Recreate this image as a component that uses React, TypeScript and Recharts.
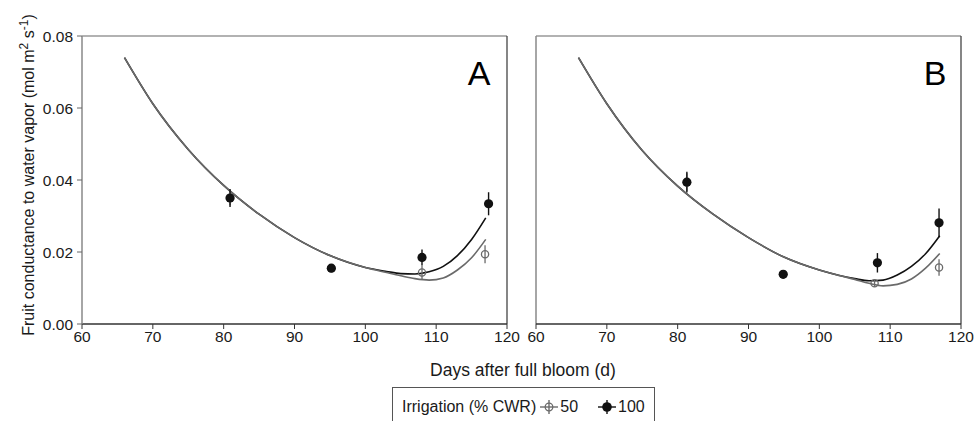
import React from "react";
import {
  ComposedChart,
  Line,
  Scatter,
  ErrorBar,
  XAxis,
  YAxis,
  ReferenceLine,
} from "recharts";

// fitted curves
const fitDays = [66, 70, 75, 80, 85, 90, 95, 100, 103, 105, 107, 109, 111, 113, 115, 117];
const aFit100 = [0.074, 0.0612, 0.0485, 0.0385, 0.0305, 0.024, 0.019, 0.0157, 0.0146, 0.014, 0.0139, 0.0145, 0.016, 0.019, 0.0235, 0.0295];
const aFit50 = [0.074, 0.0612, 0.0485, 0.0385, 0.0305, 0.024, 0.019, 0.0157, 0.0143, 0.0134, 0.0126, 0.0122, 0.0128, 0.015, 0.0184, 0.0235];
const bFit100 = [0.074, 0.0612, 0.0482, 0.0383, 0.0305, 0.024, 0.0186, 0.015, 0.0134, 0.0126, 0.012, 0.0122, 0.0136, 0.016, 0.0195, 0.0245];
const bFit50 = [0.074, 0.0612, 0.0482, 0.0383, 0.0305, 0.024, 0.0186, 0.015, 0.0134, 0.0124, 0.0113, 0.0106, 0.011, 0.0125, 0.0155, 0.0196];

// measured means and error bars
const aDays100 = [80.9, 95.2, 108.0, 117.4];
const aCond100 = [0.035, 0.0155, 0.0185, 0.0334];
const aErr100 = [0.0025, 0.001, 0.0022, 0.0032];
const aDays50 = [80.9, 95.2, 108.0, 116.9];
const aCond50 = [0.035, 0.0155, 0.0143, 0.0194];
const aErr50 = [0.002, 0.0008, 0.002, 0.0025];

const bDays100 = [81.3, 94.9, 108.2, 116.9];
const bCond100 = [0.0394, 0.0138, 0.017, 0.0281];
const bErr100 = [0.0029, 0.0004, 0.0027, 0.004];
const bDays50 = [81.3, 94.9, 107.8, 116.9];
const bCond50 = [0.0394, 0.0138, 0.0113, 0.0157];
const bErr50 = [0.0025, 0.0004, 0.001, 0.0023];

const xTicks = [60, 70, 80, 90, 100, 110, 120];
const yTicks = [0, 0.02, 0.04, 0.06, 0.08];

const FONT = '"Liberation Sans", Arial, Helvetica, sans-serif';
const BLACK = "#111111";
const GRAY = "#6a6a6a";

const toPoints = (xs: number[], ys: number[], errs?: number[]) =>
  xs.map((x, i) => ({ x, y: ys[i], err: errs ? errs[i] : 0 }));

const OpenDot = (p: any) => (
  <circle cx={p.cx} cy={p.cy} r={3.6} fill="none" stroke={GRAY} strokeWidth={1.3} />
);
const FilledDot = (p: any) => <circle cx={p.cx} cy={p.cy} r={4.6} fill={BLACK} />;

interface PanelProps {
  fit100: number[];
  fit50: number[];
  days100: number[];
  cond100: number[];
  err100: number[];
  days50: number[];
  cond50: number[];
  err50: number[];
  showY: boolean;
  width: number;
  left: number;
  right: number;
}

function Panel(p: PanelProps) {
  return (
    <ComposedChart
      width={p.width}
      height={345}
      margin={{ top: 36, right: p.right, bottom: 0, left: p.left }}
    >
      <XAxis
        dataKey="x"
        type="number"
        domain={[60, 120]}
        ticks={xTicks}
        allowDataOverflow
        height={21}
        tickSize={5}
        tickMargin={2}
        axisLine={{ stroke: "#333", strokeWidth: 1.3 }}
        tickLine={{ stroke: "#333" }}
        tick={{ fill: "#1a1a1a", fontSize: 15.5, fontFamily: FONT }}
      />
      <YAxis
        type="number"
        domain={[0, 0.08]}
        ticks={yTicks}
        allowDataOverflow
        hide={!p.showY}
        width={52}
        tickSize={5}
        tickMargin={4}
        tickFormatter={(v: number) => v.toFixed(2)}
        axisLine={{ stroke: "#888", strokeWidth: 1.5 }}
        tickLine={{ stroke: "#666" }}
        tick={{ fill: "#1a1a1a", fontSize: 15.5, fontFamily: FONT }}
      />
      <ReferenceLine y={0.08} stroke="#999" strokeWidth={1.3} />
      <ReferenceLine x={120} stroke="#444" strokeWidth={1.3} />
      {!p.showY && <ReferenceLine x={60} stroke="#888" strokeWidth={1.5} />}
      <Line
        data={toPoints(fitDays, p.fit100)}
        dataKey="y"
        type="monotone"
        stroke={BLACK}
        strokeWidth={1.6}
        dot={false}
        isAnimationActive={false}
      />
      <Line
        data={toPoints(fitDays, p.fit50)}
        dataKey="y"
        type="monotone"
        stroke={GRAY}
        strokeWidth={1.6}
        dot={false}
        isAnimationActive={false}
      />
      <Scatter
        data={toPoints(p.days50, p.cond50, p.err50)}
        dataKey="y"
        shape={OpenDot}
        isAnimationActive={false}
      >
        <ErrorBar dataKey="err" direction="y" width={0} stroke={GRAY} strokeWidth={1.3} />
      </Scatter>
      <Scatter
        data={toPoints(p.days100, p.cond100, p.err100)}
        dataKey="y"
        shape={FilledDot}
        isAnimationActive={false}
      >
        <ErrorBar dataKey="err" direction="y" width={0} stroke={BLACK} strokeWidth={1.4} />
      </Scatter>
    </ComposedChart>
  );
}

function LegendMarker({ filled }: { filled: boolean }) {
  const c = filled ? BLACK : GRAY;
  return (
    <svg width={22} height={18} style={{ verticalAlign: "middle" }}>
      <line x1={2} y1={9} x2={20} y2={9} stroke={c} strokeWidth={1.4} />
      <line x1={11} y1={2} x2={11} y2={16} stroke={c} strokeWidth={1.4} />
      {filled ? (
        <circle cx={11} cy={9} r={4.8} fill={c} />
      ) : (
        <circle cx={11} cy={9} r={3.8} fill="none" stroke={c} strokeWidth={1.3} />
      )}
    </svg>
  );
}

export default function App() {
  return (
    <div
      style={{
        position: "absolute",
        left: 0,
        top: 0,
        width: 976,
        height: 421,
        background: "#fff",
        overflow: "hidden",
        fontFamily: FONT,
      }}
    >
      <div style={{ position: "absolute", left: 0, top: 0 }}>
        <Panel
          fit100={aFit100}
          fit50={aFit50}
          days100={aDays100}
          cond100={aCond100}
          err100={aErr100}
          days50={aDays50}
          cond50={aCond50}
          err50={aErr50}
          showY
          width={520}
          left={30}
          right={13}
        />
      </div>
      <div style={{ position: "absolute", left: 520, top: 0 }}>
        <Panel
          fit100={bFit100}
          fit50={bFit50}
          days100={bDays100}
          cond100={bCond100}
          err100={bErr100}
          days50={bDays50}
          cond50={bCond50}
          err50={bErr50}
          showY={false}
          width={456}
          left={16}
          right={15}
        />
      </div>

      <svg
        width={976}
        height={421}
        style={{ position: "absolute", left: 0, top: 0, pointerEvents: "none" }}
      >
        <text
          transform="translate(34,175) rotate(-90)"
          textAnchor="middle"
          fontSize={16}
          fill="#1a1a1a"
          fontFamily={FONT}
        >
          Fruit conductance to water vapor (mol m
          <tspan dy={-6} fontSize={12}>2</tspan>
          <tspan dy={6}> s</tspan>
          <tspan dy={-6} fontSize={12}>-1</tspan>
          <tspan dy={6}>)</tspan>
        </text>
        <text x={523} y={376} textAnchor="middle" fontSize={17.5} fill="#1a1a1a" fontFamily={FONT}>
          Days after full bloom (d)
        </text>
        <text x={479} y={85} textAnchor="middle" fontSize={34} fill="#000" fontFamily={FONT}>
          A
        </text>
        <text x={935} y={85} textAnchor="middle" fontSize={34} fill="#000" fontFamily={FONT}>
          B
        </text>
      </svg>

      <div
        style={{
          position: "absolute",
          left: 392,
          top: 387,
          width: 263,
          height: 40,
          border: "1px solid #555",
          boxSizing: "border-box",
          fontSize: 16,
          color: "#1a1a1a",
          paddingLeft: 9,
          paddingTop: 9,
          whiteSpace: "nowrap",
        }}
      >
        <span style={{ verticalAlign: "middle" }}>Irrigation (% CWR)</span>
        <span style={{ marginLeft: 2 }}>
          <LegendMarker filled={false} />
        </span>
        <span style={{ verticalAlign: "middle" }}>50</span>
        <span style={{ marginLeft: 18 }}>
          <LegendMarker filled />
        </span>
        <span style={{ verticalAlign: "middle" }}>100</span>
      </div>
    </div>
  );
}
